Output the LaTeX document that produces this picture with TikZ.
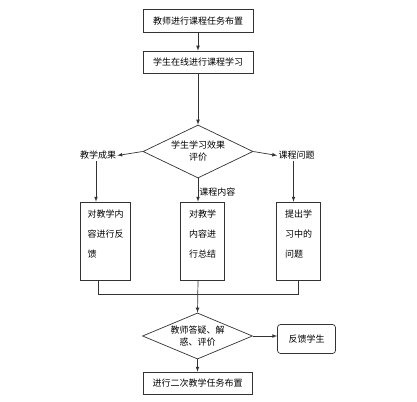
\documentclass[tikz,border=0pt]{standalone}
\usepackage{fontspec}
\newfontfamily\cjk{Noto Sans CJK SC}
\usetikzlibrary{positioning,shapes.geometric}
\tikzset{
  stepbox/.style={rectangle, draw=black!80, fill=white, inner sep=0pt, font=\cjk\fontsize{9}{11}\selectfont, minimum width=110pt, minimum height=23pt},
  tallbox/.style={rectangle, draw=black!80, fill=white, inner xsep=6pt, align=left, text depth=14pt, font=\cjk\fontsize{9}{20}\selectfont, minimum height=78pt, minimum width=#1},
  decide/.style={diamond, draw=black!80, fill=white, aspect=2.1, inner sep=0pt, align=center, font=\cjk\fontsize{9}{12}\selectfont, minimum width=110pt, minimum height=#1},
  tag/.style={font=\cjk\fontsize{9}{11}\selectfont, inner sep=1pt}
}
\begin{document}
\begin{tikzpicture}[x=1pt, y=-1pt, -latex, node distance=2cm and 2cm, on grid, line width=0.7pt, draw=black!80]
  \useasboundingbox (0,0) rectangle (417,401);
  % top of the flow
  \node [stepbox] (TASK) at (198,21) {教师进行课程任务布置};
  \node [stepbox, minimum height=22pt] (STUDY) [below=41pt of TASK] {学生在线进行课程学习};
  \node [decide=53pt] (EVAL) [below=89.5pt of STUDY] {学生学习效果\\评价};
  % three branches
  \node [tag] (RESULT) [below left=4pt and 100pt of EVAL] {教学成果};
  \node [tag] (ISSUE) [below right=4pt and 98.5pt of EVAL] {课程问题};
  \node [tallbox=44pt] (SUMUP) [below right=89.5pt and 4.5pt of EVAL] {对教学\\内容进\\行总结};
  \node [tallbox=50pt] (REVIEW) [left=97pt of SUMUP] {对教学内\\容进行反\\馈};
  \node [tallbox=44pt] (ASK) [right=96pt of SUMUP] {提出学\\习中的\\问题};
  % bottom of the flow
  \node [decide=45pt] (ANSWER) [below left=95pt and 5pt of SUMUP] {教师答疑、解\\惑、评价};
  \node [stepbox, rounded corners=3pt, minimum width=58pt, minimum height=29pt] (BACK) [below right=3pt and 109pt of ANSWER] {反馈学生};
  \node [stepbox, minimum width=109pt, minimum height=22pt] (AGAIN) [below=47pt of ANSWER] {进行二次教学任务布置};
  \path (TASK) edge (STUDY);
  \path (STUDY) edge (EVAL);
  \path (EVAL.west) edge (RESULT.east);
  \path (EVAL.east) edge (ISSUE.west);
  \draw ([xshift=-2pt]RESULT.south) -- ([xshift=-2pt]RESULT.south |- REVIEW.north);
  \draw ([xshift=-3pt]ISSUE.south) -- ([xshift=-3pt]ISSUE.south |- ASK.north);
  \draw (EVAL.south) -- node [tag, right, pos=0.58] {课程内容} (EVAL.south |- SUMUP.north);
  \draw [-] ([xshift=-7pt]REVIEW.south) |- ([yshift=-14pt]ASK.south) -- (ASK.south);
  \draw (EVAL.south |- SUMUP.south) -- (ANSWER.north);
  \draw (ANSWER.east) -- (ANSWER.east -| BACK.west);
  \path (ANSWER) edge (AGAIN);
\end{tikzpicture}
\end{document}
